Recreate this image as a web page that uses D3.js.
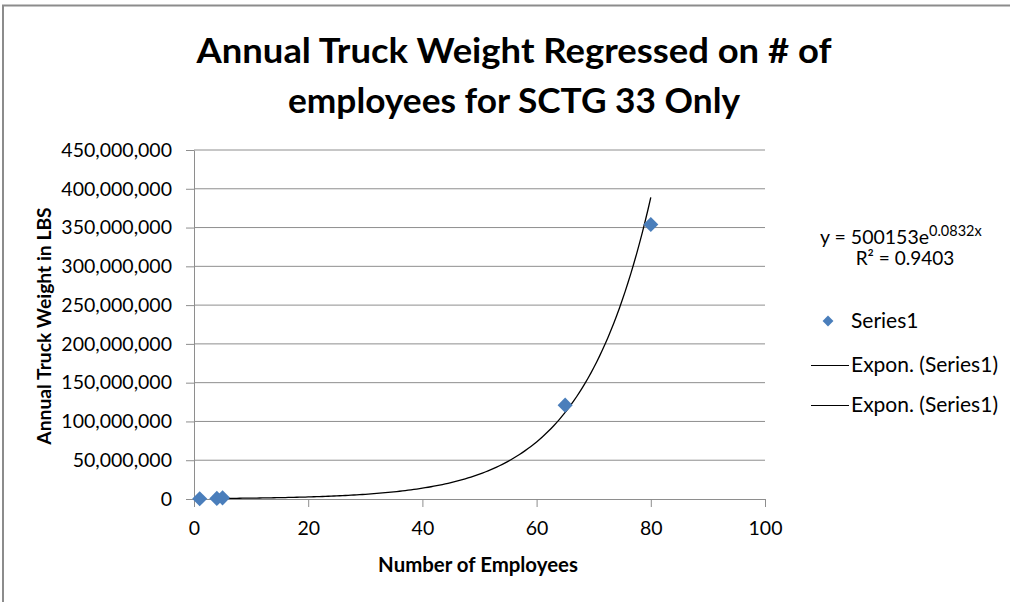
<!DOCTYPE html>
<html><head><meta charset="utf-8">
<script src="https://cdn.jsdelivr.net/npm/d3@7"></script>
<style>body{margin:0;background:#fff;} svg{display:block;} text{font-family:Lato,"Open Sans",sans-serif;}</style>
</head><body>
<svg id="c" width="1010" height="602"></svg>
<script>
const employees = [1, 4, 5, 65, 80];
const truckWeight = [300000, 800000, 1500000, 121000000, 354000000];
const yTicks = [0, 50000000, 100000000, 150000000, 200000000, 250000000, 300000000, 350000000, 400000000, 450000000];
const xTicks = [0, 20, 40, 60, 80, 100];
const trendA = 500153, trendB = 0.0832, trendFrom = 4, trendTo = 80;
const titleLines = ["Annual Truck Weight Regressed on # of", "employees for SCTG 33 Only"];
const legendItems = ["Series1", "Expon. (Series1)", "Expon. (Series1)"];

const svg = d3.select("#c");
const x = d3.scaleLinear().domain([0, 100]).range([194, 765]);
const y = d3.scaleLinear().domain([0, 450000000]).range([499, 150]);

// outer border
svg.append("line").attr("x1",2).attr("x2",1010).attr("y1",5.5).attr("y2",5.5).attr("stroke","#8c8c8c").attr("stroke-width",2);
svg.append("line").attr("x1",3).attr("x2",3).attr("y1",5).attr("y2",602).attr("stroke","#8c8c8c").attr("stroke-width",2);

// title
const titleW = [635, 452];
svg.selectAll(".title").data(titleLines).join("text")
  .attr("x", 514).attr("y", (d,i)=>63+i*50).attr("text-anchor","middle")
  .attr("font-size", 34).attr("font-weight","bold").attr("fill","#000")
  .attr("textLength",(d,i)=>titleW[i]).attr("lengthAdjust","spacingAndGlyphs").text(d=>d);

// gridlines
svg.append("g").selectAll("line").data(yTicks.filter(d=>d>0)).join("line")
  .attr("x1", x(0)).attr("x2", x(100)).attr("y1", d=>y(d)).attr("y2", d=>y(d))
  .attr("stroke","#8e8e8e").attr("stroke-width",1);

// y axis
const yAxis = svg.append("g").attr("transform",`translate(${x(0)},0)`)
  .call(d3.axisLeft(y).tickValues(yTicks).tickSize(8).tickSizeOuter(0).tickPadding(14).tickFormat(d3.format(",")));
yAxis.select(".domain").attr("stroke","#8e8e8e");
yAxis.selectAll(".tick line").attr("stroke","#8e8e8e");
yAxis.selectAll("text").attr("font-size",19.5).attr("fill","#000").style("font-family","Lato");

// x axis
const xAxis = svg.append("g").attr("transform",`translate(0,${y(0)})`)
  .call(d3.axisBottom(x).tickValues(xTicks).tickSize(8).tickSizeOuter(0).tickPadding(14));
xAxis.select(".domain").attr("stroke","#8e8e8e");
xAxis.selectAll(".tick line").attr("stroke","#8e8e8e");
xAxis.selectAll("text").attr("font-size",19.5).attr("fill","#000").style("font-family","Lato");

// axis titles
svg.append("text").attr("x",478).attr("y",572).attr("text-anchor","middle")
  .attr("font-size",20.4).attr("font-weight","bold").text("Number of Employees");
svg.append("text").attr("transform","translate(51,326) rotate(-90)").attr("text-anchor","middle")
  .attr("font-size",19.3).attr("font-weight","bold").text("Annual Truck Weight in LBS");

// trendline
const tx = d3.range(trendFrom, trendTo + 0.001, 0.5);
const line = d3.line().x(d=>x(d)).y(d=>y(trendA*Math.exp(trendB*d)));
svg.append("path").datum(tx).attr("d", line).attr("fill","none").attr("stroke","#000").attr("stroke-width",1.3);

// points
const diamond = d3.symbol().type(d3.symbolDiamond2).size(145);
svg.append("g").selectAll("path").data(employees.map((e,i)=>[e, truckWeight[i]])).join("path")
  .attr("d", diamond).attr("transform", d=>`translate(${x(d[0])},${y(d[1])})`)
  .attr("fill","#4a7ebb");

// equation
const eq = svg.append("text").attr("x",820).attr("y",244).attr("font-size",19.5).attr("fill","#000");
eq.append("tspan").text("y = " + trendA + "e");
eq.append("tspan").attr("font-size",14.5).attr("dy",-8).text(trendB + "x");
const r2 = svg.append("text").attr("x",905).attr("y",265).attr("text-anchor","middle").attr("font-size",19).attr("fill","#000");
r2.append("tspan").text("R² = 0.9403");

// legend
const legY = i => 321 + (i === 0 ? 0 : 4 + i * 40);
svg.append("path").attr("d", d3.symbol().type(d3.symbolDiamond2).size(75)).attr("transform",`translate(828,${legY(0)})`).attr("fill","#4a7ebb");
svg.selectAll(".leg").data(legendItems).join("text")
  .attr("x", 851).attr("y", (d,i)=>legY(i) + 7).attr("font-size",21).attr("fill","#000").text(d=>d);
svg.selectAll(".legl").data(legendItems.slice(1)).join("line")
  .attr("x1",811).attr("x2",849).attr("y1",(d,i)=>legY(i+1)+0.5).attr("y2",(d,i)=>legY(i+1)+0.5)
  .attr("stroke","#000").attr("stroke-width",1.2);
</script>
</body></html>
